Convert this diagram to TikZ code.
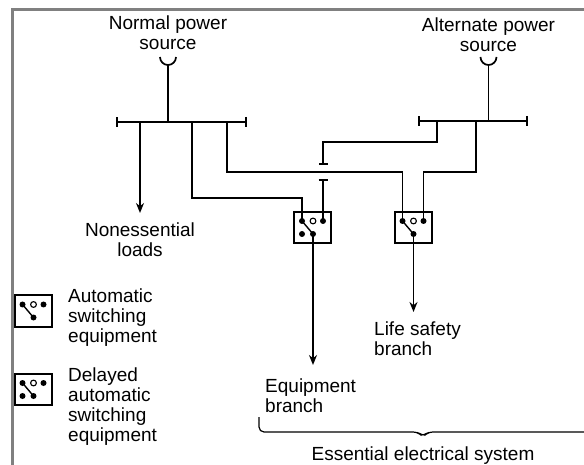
\documentclass[tikz,border=0pt]{standalone}
\usepackage{fontspec}
\setmainfont{Liberation Sans}
\usetikzlibrary{arrows.meta}
\definecolor{framegray}{RGB}{128,128,128}

\begin{document}
\begin{tikzpicture}%
  [x=1pt,y=-1pt,
   wire/.style={line width=1.7pt},
   bus/.style={wire,{Bar[width=10pt]}-{Bar[width=10pt]}},
   feed/.style={wire,-{Stealth[length=10pt,width=8pt]}},
   tag/.style={font=\fontsize{19}{20}\selectfont,inner sep=0pt,align=center},
   lefttag/.style={tag,align=left},
   pics/switchbox/.style={code={
     \node[draw,line width=2pt,minimum width=37pt,minimum height=31pt,inner sep=0pt] (-box) {};
     \coordinate (-tl) at (-10.5,-6.5);
     \coordinate (-tm) at (0.5,-6.5);
     \coordinate (-tr) at (10.5,-6.5);
     \coordinate (-bl) at (-10.5,6.5);
     \coordinate (-bm) at (0.5,6.5);
     \draw[line width=1.4pt] (-tl) -- (-bm);
     \draw[line width=1.1pt] (-tm) circle (2.9pt);
     \fill (-tl) circle (3pt) (-tr) circle (3pt) (-bm) circle (3pt);
     \ifnum#1=1 \fill (-bl) circle (3pt);\fi
   }}
  ]
  \useasboundingbox (0,0) rectangle (584,465);
  \draw[framegray,line width=3pt] (12.5,465) -- (12.5,9.5) -- (584,9.5);

  % sources and buses
  \node[tag,anchor=north] (normal) at (168,16) {Normal power\\source};
  \node[tag,anchor=north] (alternate) at (488.5,18) {Alternate power\\source};
  \coordinate (ncup) at (168,65);
  \coordinate (acup) at (488.5,65);
  \draw[wire] (ncup) ++(-8,-8) arc[start angle=180,end angle=360,radius=8pt];
  \draw[wire] (acup) ++(-8,-8) arc[start angle=180,end angle=360,radius=8pt];
  \coordinate (nbus) at (168,122);
  \coordinate (nbusL) at (116,122);
  \coordinate (nbusR) at (247,122);
  \coordinate (abus) at (488.5,121);
  \coordinate (abusL) at (418,121);
  \coordinate (abusR) at (528,121);
  \draw[bus] (nbusL) -- (nbusR);
  \draw[bus] (abusL) -- (abusR);
  \draw[wire] (ncup) -- (nbus);
  \draw[wire] (acup) -- (abus);

  % transfer switches
  \pic (eqsw) at (312.5,227.5) {switchbox=1};
  \pic (lssw) at (413,227.5) {switchbox=0};

  \coordinate (nd1) at (140,122);
  \coordinate (nd2) at (192,122);
  \coordinate (nd3) at (227,122);
  \coordinate (ad1) at (437,121);
  \coordinate (ad2) at (476,121);
  \node[tag,anchor=north] (nonessential) at (140,223) {Nonessential\\loads};
  \draw[feed,shorten >=10pt] (nd1) -- (nonessential);
  \draw[wire] (nd2) |- ([yshift=23pt]eqsw-tl) -- (eqsw-tl);
  \draw[wire] (nd3) |- ([yshift=49pt]lssw-tl) -- (lssw-tl);
  \draw[wire] (ad2) |- ([yshift=49pt]lssw-tr) -- (lssw-tr);
  \draw[wire,-{Bar[width=9pt]}] (ad1) |- ([yshift=79pt]eqsw-tr) -- ([yshift=56pt]eqsw-tr);
  \draw[wire,{Bar[width=9pt]}-] ([yshift=42pt]eqsw-tr) -- (eqsw-tr);

  % branches
  \coordinate (eqend) at (313,365);
  \coordinate (lsend) at (413.5,312);
  \draw[feed] (eqsw-bm) -- (eqend);
  \draw[feed] (lssw-bm) -- (lsend);
  \node[lefttag,anchor=north west] (equipment) at (265,379) {Equipment\\branch};
  \node[lefttag,anchor=north west] (lifesafety) at (374,322) {Life safety\\branch};

  % key
  \pic (autokey) at (33,311) {switchbox=0};
  \pic (delaykey) at (33,389.5) {switchbox=1};
  \node[lefttag,anchor=north west] (autotxt) at (68,289) {Automatic\\switching\\equipment};
  \node[lefttag,anchor=north west] (delaytxt) at (68,368) {Delayed\\automatic\\switching\\equipment};

  % brace
  \coordinate (braceL) at (259,417);
  \coordinate (braceTip) at (423,437);
  \coordinate (braceR) at (584,432);
  \draw[line width=1.2pt,rounded corners=5pt] (braceL) |- ([xshift=-5pt,yshift=5pt]braceTip) -- (braceTip) -- ([xshift=5pt,yshift=5pt]braceTip) -- (braceR);
  \node[tag,anchor=north] (essential) at (423,447) {Essential electrical system};
\end{tikzpicture}
\end{document}
